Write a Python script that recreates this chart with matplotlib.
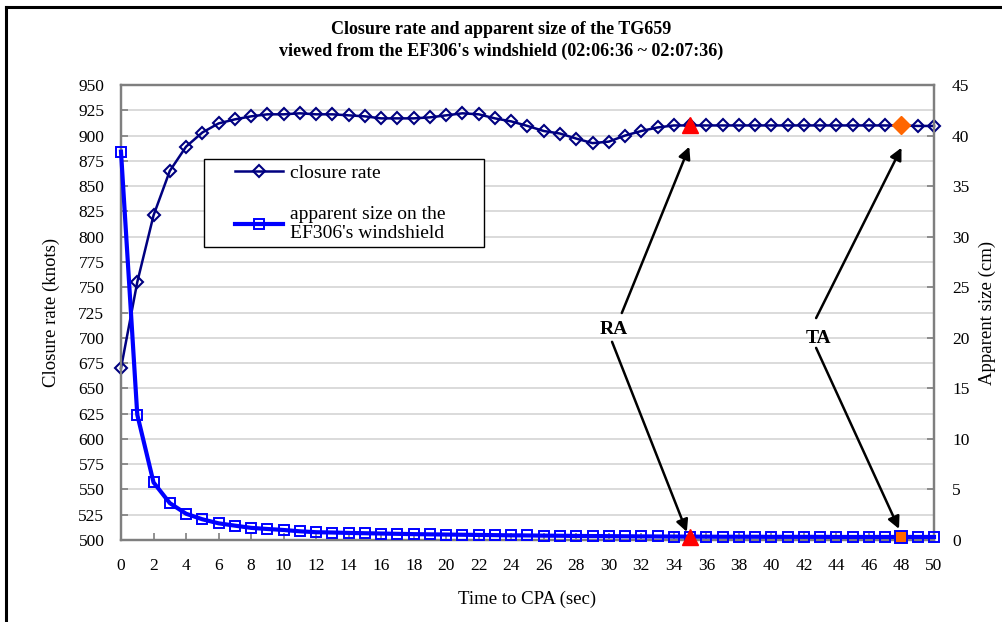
import matplotlib.pyplot as plt
from matplotlib.lines import Line2D
from matplotlib.patches import Rectangle

plt.rcParams['font.family'] = ['Liberation Serif', 'DejaVu Serif']

time_sec = list(range(0, 51))
closure_rate = [670, 755, 821, 865, 889, 903, 912, 916, 919, 921,
                921, 922, 921, 921, 920, 919, 917, 917, 917, 918,
                920, 922, 921, 917, 914, 909.5, 904.5, 902, 897, 892.5,
                894, 900, 904.5, 908, 910, 910, 910, 910, 910, 910,
                910, 910, 910, 910, 910, 910, 910, 910, 910, 909.5,
                909.5]
apparent_size = [38.4, 12.4, 5.7, 3.65, 2.6, 2.05, 1.65, 1.42, 1.2, 1.09,
                 0.99, 0.86, 0.77, 0.74, 0.7, 0.67, 0.64, 0.61, 0.58, 0.56,
                 0.54, 0.52, 0.5, 0.48, 0.46, 0.45, 0.43, 0.42, 0.4, 0.39,
                 0.38, 0.37, 0.36, 0.35, 0.34, 0.33, 0.33, 0.32, 0.32, 0.32,
                 0.31, 0.31, 0.31, 0.31, 0.3, 0.3, 0.3, 0.3, 0.3, 0.3,
                 0.3]
ra_time = 35
ta_time = 48

navy = '#000080'
blue = '#0000FF'
spine_gray = '#7F7F7F'

fig = plt.figure(figsize=(10.03, 6.22), dpi=100)
ax = fig.add_axes([121 / 1003, 82 / 622, 813 / 1003, 455 / 622])
ax2 = ax.twinx()

l1, = ax.plot(time_sec, closure_rate, color=navy, lw=1.8, marker='D', markersize=6,
              markerfacecolor='none', markeredgecolor=navy, markeredgewidth=1.5,
              label='closure rate', clip_on=False, zorder=3)
l2, = ax2.plot(time_sec, apparent_size, color=blue, lw=3, marker='s', markersize=7,
               markerfacecolor='none', markeredgecolor=blue, markeredgewidth=1.4,
               label="apparent size on the\nEF306's windshield", clip_on=False, zorder=3)

# RA / TA highlighted points
ax.plot(ra_time, closure_rate[ra_time], marker='^', color='#FF0000', markersize=12,
        linestyle='none', zorder=5, clip_on=False)
ax.plot(ta_time, closure_rate[ta_time], marker='D', color='#FF6600', markersize=9,
        linestyle='none', zorder=5, clip_on=False)
ax2.plot(ra_time, apparent_size[ra_time], marker='^', color='#FF0000', markersize=12,
         linestyle='none', zorder=5, clip_on=False)
ax2.plot(ta_time, apparent_size[ta_time], marker='s', markerfacecolor='#FF6600',
         markeredgecolor=blue, markeredgewidth=1.4, markersize=8,
         linestyle='none', zorder=5, clip_on=False)

ax.set_xlim(0, 50)
ax.set_ylim(500, 950)
ax2.set_ylim(0, 45)
ax.set_xticks(range(0, 51, 2))
ax.set_yticks(range(500, 951, 25))
ax2.set_yticks(range(0, 46, 5))

for a in (ax, ax2):
    for s in a.spines.values():
        s.set_color(spine_gray)
        s.set_linewidth(1.6)
    a.tick_params(direction='in', color=spine_gray, length=5, width=1.2, labelsize=12.5)
ax.tick_params(axis='y', pad=12)
ax.tick_params(axis='x', pad=13)
ax2.tick_params(axis='y', pad=13)

ax.set_axisbelow(True)
ax.yaxis.grid(True, color='#D4D4D4', lw=1.2)

ax.set_ylabel('Closure rate (knots)', fontsize=13.5, labelpad=13)
ax2.set_ylabel('Apparent size (cm)', fontsize=13.5, rotation=90, labelpad=7)
ax.set_xlabel('Time to CPA (sec)', fontsize=13.5, labelpad=12)

fig.text(0.5, 1 - 29 / 622, 'Closure rate and apparent size of the TG659',
         ha='center', va='center', fontsize=13, fontweight='bold')
fig.text(0.5, 1 - 51 / 622, "viewed from the EF306's windshield (02:06:36 ~ 02:07:36)",
         ha='center', va='center', fontsize=13, fontweight='bold')

# legend box drawn like the original chart
ax2.add_patch(Rectangle((0.102, 0.645), 0.344, 0.192, transform=ax2.transAxes,
                        facecolor='white', edgecolor='black', lw=1.0, zorder=6))
leg = ax2.legend(handles=[l1, l2], loc='upper left', bbox_to_anchor=(0.14, 0.825),
                 frameon=False, fontsize=14, handlelength=2.5, handletextpad=0.35,
                 labelspacing=1.2, borderpad=0, borderaxespad=0)
leg.set_zorder(7)

# annotations
arrow = dict(arrowstyle='-|>', color='black', lw=1.8, mutation_scale=18, shrinkA=0, shrinkB=0)
ax.annotate('', xy=(34.95, 889), xytext=(30.8, 724.5), arrowprops=arrow, zorder=8)
ax.annotate('', xy=(34.8, 508), xytext=(30.2, 696), arrowprops=arrow, zorder=8)
ax.annotate('', xy=(48.0, 888), xytext=(42.75, 719.5), arrowprops=arrow, zorder=8)
ax.annotate('', xy=(47.85, 511), xytext=(42.75, 690), arrowprops=arrow, zorder=8)
ax.text(30.3, 708, 'RA', ha='center', va='center', fontsize=14, fontweight='bold', zorder=8)
ax.text(42.9, 699, 'TA', ha='center', va='center', fontsize=14, fontweight='bold', zorder=8)

# outer chart border
fig.add_artist(Line2D([6 / 1003, 6 / 1003], [0, 1 - 7 / 622], color='black', lw=2.2))
fig.add_artist(Line2D([6 / 1003, 1], [1 - 7 / 622, 1 - 7 / 622], color='black', lw=2.2))

fig.savefig('out.png', dpi=100)
